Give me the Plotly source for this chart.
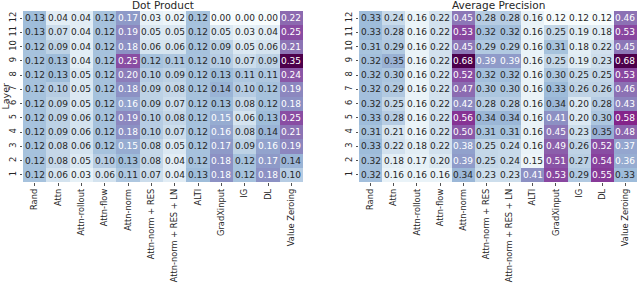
import plotly.graph_objects as go
from plotly.colors import sample_colorscale, unlabel_rgb

methods = ["Rand", "Attn", "Attn-rollout", "Attn-flow", "Attn-norm", "Attn-norm + RES",
           "Attn-norm + RES + LN", "ALTI", "GradXinput", "IG", "DL", "Value Zeroing"]
layers = [12, 11, 10, 9, 8, 7, 6, 5, 4, 3, 2, 1]

dot_product = [
    [0.13, 0.04, 0.04, 0.12, 0.17, 0.03, 0.02, 0.12, 0.00, 0.00, 0.00, 0.22],
    [0.13, 0.07, 0.04, 0.12, 0.19, 0.05, 0.05, 0.12, 0.05, 0.03, 0.04, 0.25],
    [0.12, 0.09, 0.04, 0.12, 0.18, 0.06, 0.06, 0.12, 0.09, 0.05, 0.06, 0.21],
    [0.12, 0.13, 0.04, 0.12, 0.25, 0.12, 0.11, 0.12, 0.10, 0.07, 0.09, 0.35],
    [0.12, 0.13, 0.05, 0.12, 0.20, 0.10, 0.09, 0.12, 0.13, 0.11, 0.11, 0.24],
    [0.12, 0.10, 0.05, 0.12, 0.18, 0.09, 0.08, 0.12, 0.14, 0.10, 0.12, 0.19],
    [0.12, 0.09, 0.05, 0.12, 0.16, 0.09, 0.07, 0.12, 0.13, 0.08, 0.12, 0.18],
    [0.12, 0.09, 0.06, 0.12, 0.19, 0.10, 0.08, 0.12, 0.15, 0.06, 0.13, 0.25],
    [0.12, 0.09, 0.06, 0.12, 0.18, 0.10, 0.07, 0.12, 0.16, 0.08, 0.14, 0.21],
    [0.12, 0.08, 0.06, 0.12, 0.15, 0.08, 0.05, 0.12, 0.17, 0.09, 0.16, 0.19],
    [0.12, 0.08, 0.05, 0.10, 0.13, 0.08, 0.04, 0.12, 0.18, 0.12, 0.17, 0.14],
    [0.12, 0.06, 0.03, 0.06, 0.11, 0.07, 0.04, 0.13, 0.18, 0.12, 0.18, 0.10],
]

average_precision = [
    [0.33, 0.24, 0.16, 0.22, 0.45, 0.28, 0.28, 0.16, 0.12, 0.12, 0.12, 0.46],
    [0.33, 0.28, 0.16, 0.22, 0.53, 0.32, 0.32, 0.16, 0.25, 0.19, 0.18, 0.53],
    [0.31, 0.29, 0.16, 0.22, 0.45, 0.29, 0.29, 0.16, 0.31, 0.18, 0.22, 0.45],
    [0.32, 0.35, 0.16, 0.22, 0.68, 0.39, 0.39, 0.16, 0.25, 0.19, 0.23, 0.68],
    [0.32, 0.30, 0.16, 0.22, 0.52, 0.32, 0.32, 0.16, 0.30, 0.25, 0.25, 0.53],
    [0.32, 0.29, 0.16, 0.22, 0.47, 0.30, 0.30, 0.16, 0.33, 0.26, 0.26, 0.46],
    [0.32, 0.25, 0.16, 0.22, 0.42, 0.28, 0.28, 0.16, 0.34, 0.20, 0.28, 0.43],
    [0.33, 0.28, 0.16, 0.22, 0.56, 0.34, 0.34, 0.16, 0.41, 0.20, 0.30, 0.58],
    [0.31, 0.21, 0.16, 0.22, 0.50, 0.31, 0.31, 0.16, 0.45, 0.23, 0.35, 0.48],
    [0.33, 0.22, 0.18, 0.22, 0.38, 0.25, 0.24, 0.16, 0.49, 0.26, 0.52, 0.37],
    [0.32, 0.18, 0.17, 0.20, 0.39, 0.25, 0.24, 0.15, 0.51, 0.27, 0.54, 0.36],
    [0.32, 0.16, 0.16, 0.16, 0.34, 0.23, 0.23, 0.41, 0.53, 0.29, 0.55, 0.33],
]

titles = ["Dot Product", "Average Precision"]

FONT = "DejaVu Sans"
DARK = "#262626"
W, H = 640, 284


def lum(rgb):
    def lin(c):
        c = c / 255.0
        return c / 12.92 if c <= 0.03928 else ((c + 0.055) / 1.055) ** 2.4
    r, g, b = rgb
    return 0.2126 * lin(r) + 0.7152 * lin(g) + 0.0722 * lin(b)


fig = go.Figure()
annotations = []

x_doms = [[23 / W, 303 / W], [359 / W, 637 / W]]
y_dom = [(H - 182) / H, (H - 11) / H]
xidx = list(range(len(methods)))

for i, (data, title) in enumerate([(dot_product, titles[0]), (average_precision, titles[1])]):
    flat = [v for row in data for v in row]
    zmin, zmax = min(flat), max(flat)
    xa = "x" if i == 0 else "x2"
    ya = "y" if i == 0 else "y2"
    fig.add_trace(go.Heatmap(
        z=data, x=xidx, y=layers, colorscale="BuPu", zmin=zmin, zmax=zmax,
        showscale=False, xaxis=xa, yaxis=ya, xgap=0, ygap=0, hoverinfo="skip"))
    for r, row in enumerate(data):
        for c, v in enumerate(row):
            t = (v - zmin) / (zmax - zmin)
            col = sample_colorscale("BuPu", [t])[0]
            rgb = unlabel_rgb(col)
            tc = DARK if lum(rgb) > 0.408 else "white"
            annotations.append(dict(
                x=xidx[c], y=layers[r], xref=xa, yref=ya, text=f"{v:.2f}",
                showarrow=False, font=dict(family=FONT, size=9, color=tc)))
    annotations.append(dict(
        x=(x_doms[i][0] + x_doms[i][1]) / 2, y=1 - 5 / H, xref="paper", yref="paper",
        text=title, showarrow=False, font=dict(family=FONT, size=10.5, color=DARK),
        xanchor="center", yanchor="middle"))

annotations.append(dict(
    x=4.5 / W, y=(H - 96) / H, xref="paper", yref="paper", text="Layer", textangle=-90,
    showarrow=False, font=dict(family=FONT, size=9.5, color=DARK),
    xanchor="center", yanchor="middle"))

axis_common = dict(tickfont=dict(family=FONT, size=8.3, color=DARK), ticks="outside",
                   ticklen=2.5, tickwidth=0.8, tickcolor=DARK, showgrid=False,
                   zeroline=False, showline=False, automargin=False, tickangle=-90)

xaxis_cfg = dict(type="linear", range=[-0.5, len(methods) - 0.5], tickmode="array",
                 tickvals=xidx, ticktext=methods, fixedrange=True, **axis_common)
yaxis_cfg = dict(type="linear", range=[0.5, 12.5], tickmode="array",
                 tickvals=layers, ticktext=[str(l) for l in layers], fixedrange=True,
                 **axis_common)

fig.update_layout(
    width=W, height=H, margin=dict(l=0, r=0, t=0, b=0),
    paper_bgcolor="white", plot_bgcolor="white",
    annotations=annotations,
    xaxis=dict(domain=x_doms[0], anchor="y", **xaxis_cfg),
    yaxis=dict(domain=y_dom, anchor="x", **yaxis_cfg),
    xaxis2=dict(domain=x_doms[1], anchor="y2", **xaxis_cfg),
    yaxis2=dict(domain=y_dom, anchor="x2", **yaxis_cfg),
    font=dict(family=FONT, color=DARK),
    hovermode=False,
)

fig.write_html("out.html", config={"displayModeBar": False, "staticPlot": True},
               post_script="document.body.style.margin='0px';document.body.style.overflow='hidden';")
